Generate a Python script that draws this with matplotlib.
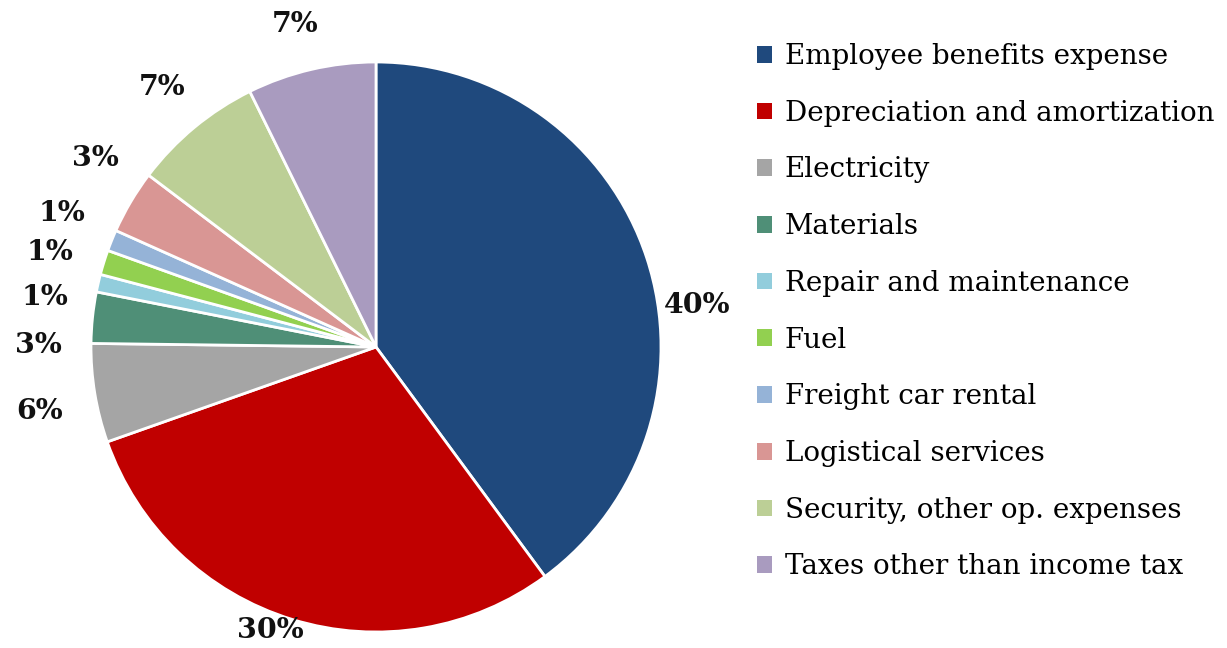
import matplotlib.pyplot as plt

# categories and shares (% of total)
categories = ["Employee benefits expense", "Depreciation and amortization", "Electricity",
              "Materials", "Repair and maintenance", "Fuel", "Freight car rental",
              "Logistical services", "Security, other op. expenses", "Taxes other than income tax"]
shares = [39.9, 29.7, 5.6, 2.9, 1.0, 1.4, 1.2, 3.6, 7.4, 7.3]
pct_labels = ["40%", "30%", "6%", "3%", "1%", "1%", "1%", "3%", "7%", "7%"]
colors = ["#1f497d", "#c00000", "#a5a5a5", "#4f8f77", "#92cddc", "#92d050",
          "#95b3d7", "#d99694", "#bccf96", "#a99bbf"]

# where the percent labels sit (pie radius = 1)
label_pos = [(1.126, 0.147), (-0.372, -0.993), (-1.179, -0.228), (-1.186, 0.007),
             (-1.161, 0.175), (-1.144, 0.333), (-1.102, 0.470), (-0.986, 0.663),
             (-0.751, 0.909), (-0.284, 1.133)]

W, H = 1227, 648
fig = plt.figure(figsize=(W / 100, H / 100), dpi=100)

# pie centre at (376, 347) px from top, radius 285 px
R = 285
half = 360
cx, cy = 376, H - 347
ax = fig.add_axes([(cx - half) / W, (cy - half) / H, 2 * half / W, 2 * half / H])
wedges, _ = ax.pie(shares, colors=colors, startangle=90, counterclock=False,
                   wedgeprops=dict(edgecolor="white", linewidth=2))
ax.set_xlim(-half / R, half / R)
ax.set_ylim(-half / R, half / R)
ax.set_aspect("equal")
ax.axis("off")

for txt, (x, y) in zip(pct_labels, label_pos):
    ax.text(x, y, txt, ha="center", va="center", fontsize=20.5, fontweight="bold",
            family="DejaVu Serif", color="#111111")

leg = fig.legend(wedges, categories, loc="upper left", bbox_to_anchor=(732 / W, 1 - 18 / H),
                 frameon=False, handlelength=0.55, handleheight=0.55, handletextpad=0.45,
                 labelspacing=1.07, prop=dict(family="DejaVu Serif", size=20))
for h in leg.legend_handles:
    h.set_edgecolor("none")

fig.savefig("out.png", dpi=100)
